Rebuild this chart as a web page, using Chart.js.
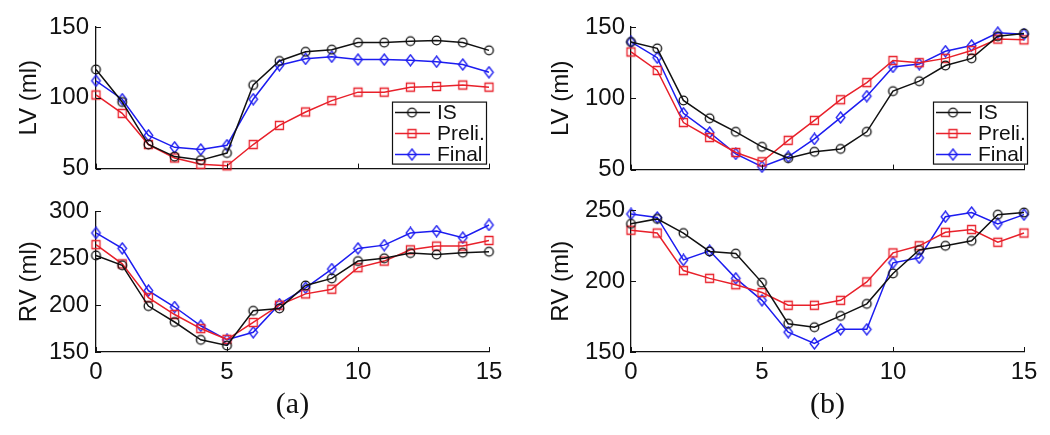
<!DOCTYPE html>
<html>
<head>
<meta charset="utf-8">
<script src="https://cdn.jsdelivr.net/npm/chart.js@4.4.1/dist/chart.umd.min.js"></script>
<style>
  body { margin: 0; background: #fff; width: 1050px; height: 435px; position: relative; overflow: hidden; }
  canvas { position: absolute; }
</style>
</head>
<body>
<canvas id="aLV" width="525" height="190" style="left:0;top:0"></canvas>
<canvas id="aRV" width="525" height="245" style="left:0;top:190px"></canvas>
<canvas id="bLV" width="525" height="190" style="left:525px;top:0"></canvas>
<canvas id="bRV" width="525" height="245" style="left:525px;top:190px"></canvas>
<script>
// frame index (x axis)
const frames = [0, 1, 2, 3, 4, 5, 6, 7, 8, 9, 10, 11, 12, 13, 14, 15];
const seriesNames = ['IS', 'Preli.', 'Final'];

// tick labels
const xTicks = [0, 5, 10, 15];
const lvTicks = [50, 100, 150];
const aRvTicks = [150, 200, 250, 300];
const bRvTicks = [150, 200, 250];

// (a) LV
const aLV_IS    = [120, 97, 67, 58.5, 56, 61, 109, 126, 132.5, 134, 139, 139, 140, 140.5, 139, 133.5];
const aLV_Preli = [102, 89, 67, 57.5, 53, 52, 67, 80.5, 90, 98, 104, 104, 107.5, 108, 109, 107.5];
const aLV_Final = [112, 99, 73.5, 65, 63.5, 66.5, 99, 123, 127.5, 129, 127, 127, 126.5, 125.5, 123.5, 118];

// (a) RV
const aRV_IS    = [253, 242.5, 199, 182, 163, 157, 194, 196.5, 221, 228.5, 247, 250, 255.5, 254, 256, 257];
const aRV_Preli = [264.5, 244, 208, 190, 175, 163.5, 181.5, 200, 212, 217, 240, 247, 259, 263, 263, 269];
const aRV_Final = [277, 260.5, 215.5, 198, 178, 163, 171, 201, 218.5, 238.5, 260.5, 264, 277, 279, 272, 285.5];

// (b) LV
const bLV_IS    = [139.5, 135, 98.5, 86, 76.5, 66, 58, 62.5, 64.5, 76.5, 105, 112, 123, 128, 143.5, 145.5];
const bLV_Preli = [132.5, 119.5, 83, 72.5, 62, 55.5, 70.5, 84.5, 99, 111, 126.5, 125, 128, 133.5, 141.5, 141];
const bLV_Final = [139.5, 128.5, 89.5, 76, 61, 52, 59, 71.5, 86.5, 101.5, 122, 124, 133, 137, 146, 145];

// (b) RV
const bRV_IS    = [240.5, 244, 234, 221, 219.5, 199, 170, 167.5, 175.5, 184, 205.5, 222, 225, 228.5, 247, 248.5];
const bRV_Preli = [236, 234, 207.5, 202, 197.5, 192, 183, 183, 186.5, 199.5, 220, 225, 234.5, 236.5, 227.5, 234];
const bRV_Final = [247.5, 245, 215, 221.5, 202, 186.5, 164, 156, 166, 166, 213, 216.5, 245.5, 248.5, 240.5, 247];

const colors = ['#111111', '#e8202a', '#1c1cf0'];
const shapes = ['circle', 'square', 'diamond'];
const sans = "'Liberation Sans', Arial, sans-serif";
const serif = "'Liberation Serif', 'Times New Roman', serif";

// hollow markers like matlab
function marker(shape, color) {
  const c = document.createElement('canvas');
  c.width = 13; c.height = 13;
  const g = c.getContext('2d');
  g.strokeStyle = color;
  g.lineWidth = 1.3;
  g.beginPath();
  if (shape === 'circle') g.arc(6.5, 6.5, 4.3, 0, 2 * Math.PI);
  else if (shape === 'square') g.rect(2.5, 2.5, 8, 8);
  else { g.moveTo(6.5, 1); g.lineTo(10.8, 6.5); g.lineTo(6.5, 12); g.lineTo(2.2, 6.5); g.closePath(); }
  g.stroke();
  return c;
}
const markers = shapes.map((s, i) => marker(s, colors[i]));

// small ticks pointing into the plot
const inwardTicks = {
  id: 'inwardTicks',
  afterDatasetsDraw(chart) {
    const { ctx, chartArea, scales } = chart;
    ctx.save();
    ctx.strokeStyle = '#111';
    ctx.lineWidth = 1;
    ctx.beginPath();
    scales.y.ticks.forEach(t => {
      const py = Math.round(scales.y.getPixelForValue(t.value)) + 0.5;
      ctx.moveTo(chartArea.left, py); ctx.lineTo(chartArea.left + 5, py);
    });
    scales.x.ticks.forEach(t => {
      const px = Math.round(scales.x.getPixelForValue(t.value)) + 0.5;
      ctx.moveTo(px, chartArea.bottom); ctx.lineTo(px, chartArea.bottom - 5);
    });
    ctx.stroke();
    ctx.restore();
  }
};

// legend box inside the plot
const boxLegend = {
  id: 'boxLegend',
  afterDraw(chart, args, opts) {
    if (!opts.show) return;
    const { ctx, chartArea } = chart;
    const w = 94, h = 62;
    const x0 = chartArea.right + opts.dx - w;
    const y0 = chartArea.bottom + opts.dy - h;
    ctx.save();
    ctx.fillStyle = '#fff';
    ctx.fillRect(x0, y0, w, h);
    ctx.strokeStyle = '#111';
    ctx.lineWidth = 1.2;
    ctx.strokeRect(x0 + 0.5, y0 + 0.5, w, h);
    ctx.font = '21px ' + sans;
    ctx.textBaseline = 'middle';
    chart.data.datasets.forEach((ds, i) => {
      const cy = y0 + 11 + i * 21;
      ctx.strokeStyle = ds.borderColor;
      ctx.lineWidth = 1.5;
      ctx.beginPath();
      ctx.moveTo(x0 + 3, cy); ctx.lineTo(x0 + 38, cy);
      ctx.stroke();
      ctx.drawImage(markers[i], x0 + 20 - 6.5, cy - 6.5);
      ctx.fillStyle = '#111';
      ctx.fillText(ds.label, x0 + 45, cy + 1);
    });
    ctx.restore();
  }
};

function makePanel(id, series, p) {
  new Chart(document.getElementById(id), {
    type: 'line',
    data: {
      datasets: series.map((vals, i) => ({
        label: seriesNames[i],
        data: frames.map((f, k) => ({ x: f, y: vals[k] })),
        borderColor: colors[i],
        borderWidth: 1.5,
        pointStyle: markers[i],
        pointRadius: 5,
        pointBackgroundColor: 'rgba(0,0,0,0)',
        pointBorderColor: colors[i],
        tension: 0,
        clip: false
      }))
    },
    options: {
      responsive: false,
      animation: false,
      devicePixelRatio: 1,
      events: [],
      layout: { padding: { top: p.padTop, right: p.padRight, left: 0, bottom: 0 } },
      plugins: {
        legend: { display: false },
        tooltip: { enabled: false },
        boxLegend: { show: p.legend, dx: p.legDx, dy: p.legDy }
      },
      scales: {
        x: {
          type: 'linear', min: 0, max: 15,
          grid: { display: false, drawTicks: false },
          border: { display: true, color: '#111', width: 1.3 },
          ticks: { display: p.showX, padding: 6, color: '#111', font: { family: sans, size: 24 } },
          afterBuildTicks: s => { s.ticks = xTicks.map(v => ({ value: v })); },
          afterFit: s => { s.height = p.xH; },
          title: {
            display: !!p.letter, text: p.letter, color: '#111',
            font: { family: serif, size: 30 }, padding: { top: 0, bottom: 12 }
          }
        },
        y: {
          type: 'linear', min: p.yTicks[0], max: p.yTicks[p.yTicks.length - 1],
          grid: { display: false, drawTicks: false },
          border: { display: true, color: '#111', width: 1.3 },
          ticks: { padding: p.tickPad, color: '#111', font: { family: sans, size: 24 } },
          afterBuildTicks: s => { s.ticks = p.yTicks.map(v => ({ value: v })); },
          afterFit: s => { s.width = p.yW; },
          title: {
            display: true, text: p.yTitle, color: '#111',
            font: { family: sans, size: 24 }, padding: { top: p.titlePad, bottom: 0 }
          }
        }
      }
    },
    plugins: [inwardTicks, boxLegend]
  });
}

makePanel('aLV', [aLV_IS, aLV_Preli, aLV_Final], {
  padTop: 27, padRight: 36, yW: 96, xH: 14, showX: false, letter: '',
  yTicks: lvTicks, yTitle: 'LV (ml)', tickPad: 7, titlePad: 15,
  legend: true, legDx: -3, legDy: -5
});
makePanel('aRV', [aRV_IS, aRV_Preli, aRV_Final], {
  padTop: 13, padRight: 36, yW: 96, xH: 83, showX: true, letter: '(a)',
  yTicks: aRvTicks, yTitle: 'RV (ml)', tickPad: 7, titlePad: 15,
  legend: false
});
makePanel('bLV', [bLV_IS, bLV_Preli, bLV_Final], {
  padTop: 27, padRight: 26, yW: 106, xH: 14, showX: false, letter: '',
  yTicks: lvTicks, yTitle: 'LV (ml)', tickPad: 6, titlePad: 22,
  legend: true, legDx: 3, legDy: -6
});
makePanel('bRV', [bRV_IS, bRV_Preli, bRV_Final], {
  padTop: 15, padRight: 26, yW: 106, xH: 83, showX: true, letter: '(b)',
  yTicks: bRvTicks, yTitle: 'RV (ml)', tickPad: 6, titlePad: 22,
  legend: false
});
</script>
</body>
</html>
